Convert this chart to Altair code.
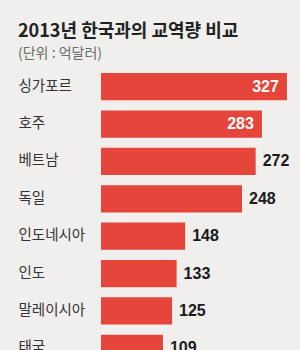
import altair as alt
import pandas as pd

countries = ["싱가포르", "호주", "베트남", "독일", "인도네시아", "인도", "말레이시아", "태국"]
values = [327, 283, 272, 248, 148, 133, 125, 109]

df = pd.DataFrame({"country": countries, "value": values})

BG = "#f0efed"
RED = "#e5453a"

y = alt.Y("country:N", sort=countries, title=None,
          scale=alt.Scale(paddingInner=0.27, paddingOuter=0.135),
          axis=alt.Axis(ticks=False, domain=False, labelAlign="left", labelPadding=83,
                        labelFont="Noto Sans CJK KR", labelFontSize=14.5,
                        labelColor="#333333", labelFontWeight="normal"))
x = alt.X("value:Q", title=None, scale=alt.Scale(domain=[0, 350]), axis=None)

base = alt.Chart(df)
bars = base.mark_bar(color=RED).encode(x=x, y=y)

inside = base.transform_filter("datum.value > 280").mark_text(
    align="right", baseline="middle", dx=-8, color="white",
    font="Liberation Sans Narrow, Arial Narrow, Liberation Sans", fontWeight="bold", fontSize=16
).encode(x=x, y=y, text="value:Q")

outside = base.transform_filter("datum.value <= 280").mark_text(
    align="left", baseline="middle", dx=7, color="#1a1a1a",
    font="Liberation Sans Narrow, Arial Narrow, Liberation Sans", fontWeight="bold", fontSize=16
).encode(x=x, y=y, text="value:Q")

chart = alt.layer(bars, inside, outside).properties(
    width=199, height=299,
    title=alt.TitleParams(
        text="2013년 한국과의 교역량 비교",
        subtitle="(단위 : 억달러)",
        anchor="start", frame="bounds",
        font="Noto Sans CJK KR", fontSize=18, fontWeight="bold", color="#222222",
        subtitleFont="Noto Sans CJK KR", subtitleFontSize=14, subtitleColor="#6a6a6a",
        subtitleFontWeight="normal", subtitlePadding=6, offset=7,
    ),
    autosize=alt.AutoSizeParams(type="none"),
    padding={"left": 101, "top": 68, "right": 0, "bottom": 0},
    background=BG,
).configure_view(stroke=None)

chart.save("out.html", embed_options={"renderer": "svg", "actions": False})
